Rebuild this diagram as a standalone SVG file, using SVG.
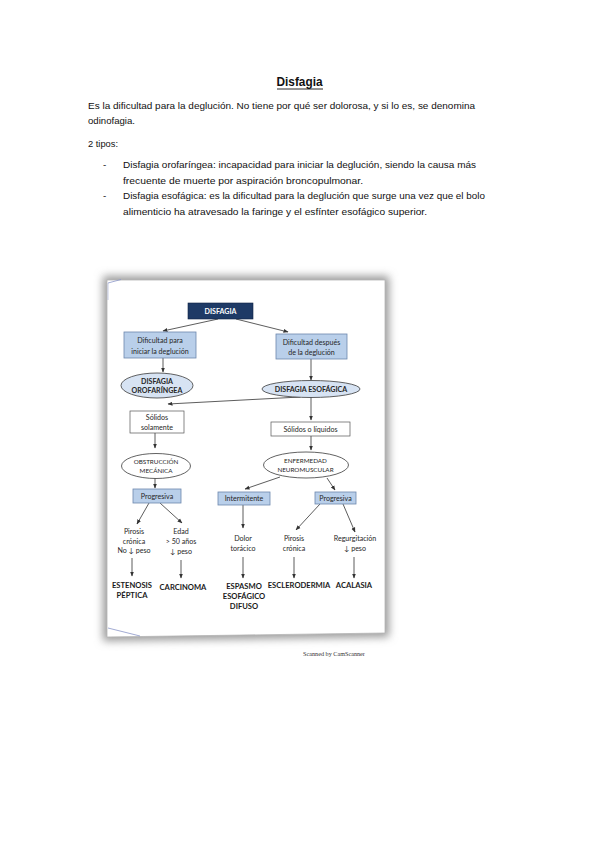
<svg xmlns="http://www.w3.org/2000/svg" width="599" height="848" viewBox="0 0 599 848">
<style>
.doc{font-family:"Liberation Sans",Arial,sans-serif;font-size:9.8px;fill:#111}
.t{font-family:Lato,"Open Sans",sans-serif;font-size:7.1px;fill:#262626;text-anchor:middle}
.b{font-weight:bold}
.w{fill:#ffffff}
.s{font-size:6.3px}
.L{font-size:7.6px;font-weight:bold;fill:#1a1a1a}
.blue{fill:#b9cfea;stroke:#6d87ad;stroke-width:0.8}
.ell{fill:#d7e3f3;stroke:#3a3a3a;stroke-width:0.8}
.ellw{fill:#ffffff;stroke:#3a3a3a;stroke-width:0.8}
.wbox{fill:#ffffff;stroke:#555;stroke-width:0.7}
.con line{stroke:#333;stroke-width:0.8;marker-end:url(#ah)}
</style>
<defs>
<marker id="ah" viewBox="0 0 10 10" refX="9" refY="5" markerWidth="5" markerHeight="5" markerUnits="userSpaceOnUse" orient="auto">
<path d="M0,1 L10,5 L0,9 z" fill="#333"/>
</marker>
<filter id="sh" x="-10%" y="-10%" width="120%" height="120%">
<feGaussianBlur stdDeviation="4"/>
</filter>
</defs>
<rect width="599" height="848" fill="#ffffff"/>

<g id="document">
<text x="299.5" y="86" class="doc b" style="font-size:13px" text-anchor="middle" textLength="46" lengthAdjust="spacingAndGlyphs">Disfagia</text>
<line x1="277" y1="89" x2="323" y2="89" stroke="#111" stroke-width="0.9"/>
<text x="88" y="109" class="doc" textLength="387" lengthAdjust="spacingAndGlyphs">Es la dificultad para la deglución. No tiene por qué ser dolorosa, y si lo es, se denomina</text>
<text x="88" y="124" class="doc" textLength="47" lengthAdjust="spacingAndGlyphs">odinofagia.</text>
<text x="88" y="147" class="doc" textLength="30" lengthAdjust="spacingAndGlyphs">2 tipos:</text>
<text x="103" y="168" class="doc">-</text>
<text x="123" y="168" class="doc" textLength="353" lengthAdjust="spacingAndGlyphs">Disfagia orofaríngea: incapacidad para iniciar la deglución, siendo la causa más</text>
<text x="123" y="184" class="doc" textLength="240" lengthAdjust="spacingAndGlyphs">frecuente de muerte por aspiración broncopulmonar.</text>
<text x="103" y="199" class="doc">-</text>
<text x="123" y="199" class="doc" textLength="362" lengthAdjust="spacingAndGlyphs">Disfagia esofágica: es la dificultad para la deglución que surge una vez que el bolo</text>
<text x="123" y="215" class="doc" textLength="304" lengthAdjust="spacingAndGlyphs">alimenticio ha atravesado la faringe y el esfínter esofágico superior.</text>
</g>

<g id="scan-page">
<polygon points="103,276 389,276 389,637 103,641" fill="#9a9a9a" filter="url(#sh)"/>
<polygon points="107,280 385,280 385,633 107,637" fill="#ffffff" stroke="#b5b5b5" stroke-width="0.8"/>
<line x1="108" y1="283" x2="121" y2="279.5" stroke="#8a96c8" stroke-width="0.8"/>
<line x1="108" y1="283" x2="108" y2="300" stroke="#a0a8d0" stroke-width="0.6"/>
<line x1="108" y1="628" x2="140" y2="636" stroke="#8a96c8" stroke-width="0.8"/>
<text x="334" y="656" font-family="Liberation Serif,serif" font-size="6.2" fill="#333" text-anchor="middle">Scanned by CamScanner</text>
</g>

<g class="con" id="connectors">
<line x1="218" y1="319" x2="163" y2="331"/>
<line x1="236" y1="319" x2="288" y2="332"/>
<line x1="163" y1="358" x2="163" y2="372"/>
<line x1="311" y1="359" x2="311" y2="380"/>
<line x1="300" y1="397" x2="168" y2="404"/>
<line x1="311" y1="397" x2="311" y2="420"/>
<line x1="155" y1="433" x2="155" y2="448"/>
<line x1="311" y1="436" x2="311" y2="450"/>
<line x1="155" y1="478" x2="155" y2="488"/>
<line x1="280" y1="477" x2="245" y2="489"/>
<line x1="327" y1="478" x2="335" y2="490"/>
<line x1="149" y1="503" x2="137" y2="524"/>
<line x1="160" y1="503" x2="182" y2="523"/>
<line x1="243" y1="505" x2="243" y2="528"/>
<line x1="320" y1="504" x2="296" y2="530"/>
<line x1="343" y1="504" x2="355" y2="532"/>
<line x1="132" y1="558" x2="132" y2="576"/>
<line x1="181" y1="560" x2="181" y2="578"/>
<line x1="243" y1="557" x2="243" y2="578"/>
<line x1="294" y1="557" x2="294" y2="578"/>
<line x1="354" y1="557" x2="354" y2="578"/>
</g>

<g id="n-disfagia">
<rect x="188" y="303" width="65" height="16" fill="#1e3a66" stroke="#0f2244" stroke-width="0.6"/>
<text x="220.5" y="313.7" class="t b w">DISFAGIA</text>
</g>
<g id="n-dif-iniciar">
<rect x="124" y="332" width="72" height="26" class="blue"/>
<text x="160" y="343" class="t">Dificultad para</text>
<text x="160" y="353.5" class="t">iniciar la deglución</text>
</g>
<g id="n-dif-despues">
<rect x="276" y="334" width="71" height="25" class="blue"/>
<text x="311.5" y="344.5" class="t">Dificultad después</text>
<text x="311.5" y="355" class="t">de la deglución</text>
</g>
<g id="n-orofaringea">
<ellipse cx="157" cy="385.5" rx="36" ry="12.5" class="ell"/>
<text x="157" y="384" class="t b">DISFAGIA</text>
<text x="157" y="392.5" class="t b">OROFARÍNGEA</text>
</g>
<g id="n-esofagica">
<ellipse cx="311" cy="389" rx="49" ry="8.5" class="ell"/>
<text x="311" y="391.6" class="t b">DISFAGIA ESOFÁGICA</text>
</g>
<g id="n-solidos-sol">
<rect x="130" y="411" width="54" height="22" class="wbox"/>
<text x="157" y="420" class="t">Sólidos</text>
<text x="157" y="429.5" class="t">solamente</text>
</g>
<g id="n-solidos-liq">
<rect x="271" y="422" width="79" height="14" class="wbox"/>
<text x="310.5" y="431.6" class="t">Sólidos o líquidos</text>
</g>
<g id="n-obstruccion">
<ellipse cx="156" cy="466" rx="34.5" ry="12.5" class="ellw"/>
<text x="156" y="463.5" class="t s">OBSTRUCCIÓN</text>
<text x="156" y="473" class="t s">MECÁNICA</text>
</g>
<g id="n-enfermedad">
<ellipse cx="306" cy="465" rx="42.5" ry="13" class="ellw"/>
<text x="305.5" y="462.5" class="t s">ENFERMEDAD</text>
<text x="305.5" y="472" class="t s">NEUROMUSCULAR</text>
</g>
<g id="n-progresiva-1">
<rect x="133" y="489" width="48" height="14" class="blue"/>
<text x="157" y="498.6" class="t">Progresiva</text>
</g>
<g id="n-intermitente">
<rect x="218" y="492" width="52" height="13" class="blue"/>
<text x="244" y="501" class="t">Intermitente</text>
</g>
<g id="n-progresiva-2">
<rect x="315" y="492" width="41" height="12" class="blue"/>
<text x="335.5" y="500.6" class="t">Progresiva</text>
</g>
<g id="n-pirosis-1">
<text x="134" y="533.5" class="t">Pirosis</text>
<text x="134" y="543.5" class="t">crónica</text>
<text x="134" y="553" class="t">No ↓ peso</text>
</g>
<g id="n-edad">
<text x="181" y="534" class="t">Edad</text>
<text x="181" y="543.5" class="t">&gt; 50 años</text>
<text x="181" y="554" class="t">↓ peso</text>
</g>
<g id="n-dolor">
<text x="243" y="541" class="t">Dolor</text>
<text x="243" y="550.5" class="t">torácico</text>
</g>
<g id="n-pirosis-2">
<text x="294" y="541" class="t">Pirosis</text>
<text x="294" y="550.5" class="t">crónica</text>
</g>
<g id="n-regurg">
<text x="355" y="540.5" class="t">Regurgitación</text>
<text x="355" y="550.5" class="t">↓ peso</text>
</g>
<g id="n-estenosis">
<text x="132" y="588" class="t L">ESTENOSIS</text>
<text x="132" y="598" class="t L">PÉPTICA</text>
</g>
<g id="n-carcinoma">
<text x="183" y="589.5" class="t L">CARCINOMA</text>
</g>
<g id="n-espasmo">
<text x="244" y="589" class="t L">ESPASMO</text>
<text x="244" y="599" class="t L">ESOFÁGICO</text>
<text x="244" y="609" class="t L">DIFUSO</text>
</g>
<g id="n-esclerodermia">
<text x="299" y="588" class="t L">ESCLERODERMIA</text>
</g>
<g id="n-acalasia">
<text x="354" y="588" class="t L">ACALASIA</text>
</g>
</svg>
